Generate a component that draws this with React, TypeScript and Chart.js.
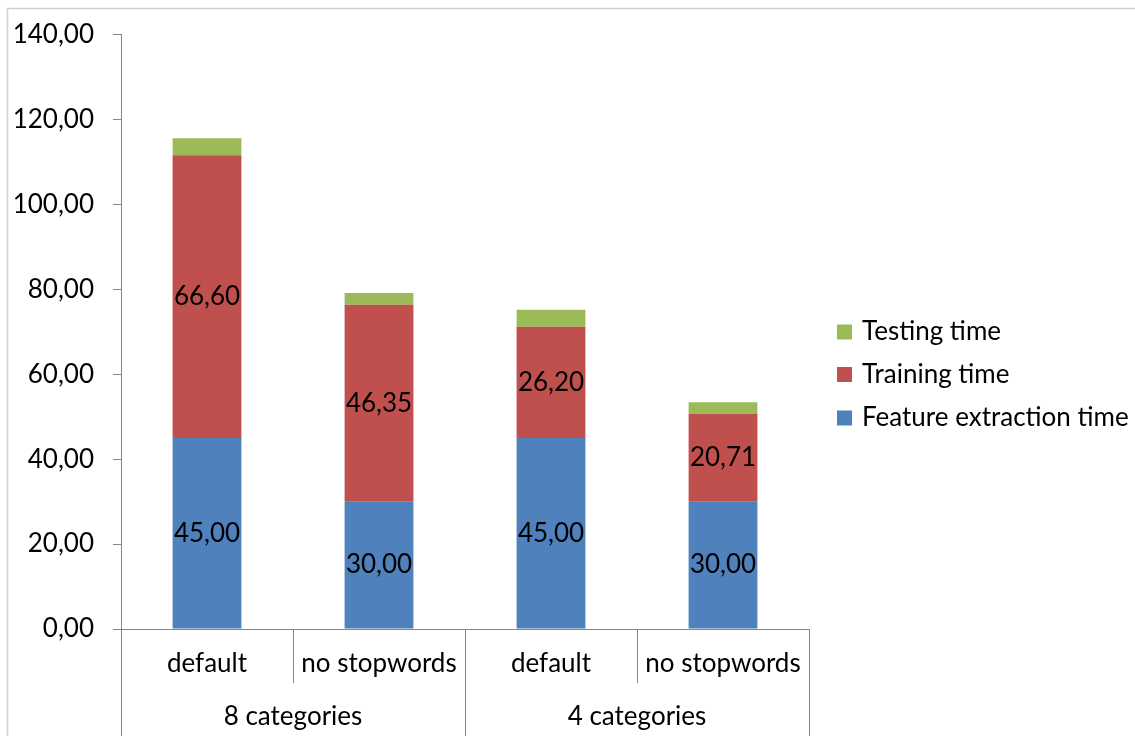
import React, { useEffect, useRef } from "react";
import { Chart, registerables } from "chart.js";

Chart.register(...registerables);

const subCategories = ["default", "no stopwords", "default", "no stopwords"];
const groupCategories = ["8 categories", "4 categories"];
const groupSizes = [2, 2];
const seriesNames = ["Feature extraction time", "Training time", "Testing time"];
const featureExtraction = [45.0, 30.0, 45.0, 30.0];
const training = [66.6, 46.35, 26.2, 20.71];
const testing = [4.0, 2.8, 4.0, 2.7];
const seriesColors = ["#4F81BD", "#C0504D", "#9BBB59"];
const yMin = 0;
const yMax = 140;
const yStep = 20;

const FONT = "Lato, 'Open Sans', sans-serif";
const FONT_SIZE = 26;
const AXIS_COLOR = "#868686";

const fmt = (v: number) => v.toFixed(2).replace(".", ",");

const framePlugin = {
  id: "frame",
  beforeDraw(chart: any) {
    const ctx = chart.ctx;
    ctx.save();
    ctx.strokeStyle = "#d0d0d0";
    ctx.lineWidth = 1.5;
    ctx.beginPath();
    ctx.moveTo(7.5, chart.height);
    ctx.lineTo(7.5, 8.5);
    ctx.lineTo(chart.width, 8.5);
    ctx.stroke();
    ctx.restore();
  },
};

const labelsPlugin = {
  id: "segLabels",
  afterDatasetsDraw(chart: any) {
    const ctx = chart.ctx;
    ctx.save();
    ctx.font = `${FONT_SIZE}px ${FONT}`;
    ctx.fillStyle = "#000";
    ctx.textAlign = "center";
    ctx.textBaseline = "middle";
    [0, 1].forEach((di) => {
      const meta = chart.getDatasetMeta(di);
      const data = chart.data.datasets[di].data as number[];
      meta.data.forEach((bar: any, i: number) => {
        const cy = (bar.y + bar.base) / 2;
        ctx.fillText(fmt(data[i]), bar.x, cy);
      });
    });
    ctx.restore();
  },
};

const groupAxisPlugin = {
  id: "groupAxis",
  afterDraw(chart: any) {
    const ctx = chart.ctx;
    const x = chart.scales.x;
    const area = chart.chartArea;
    const n = subCategories.length;
    const step = (area.right - area.left) / n;
    const bound = (i: number) => area.left + step * i;
    const yAxis = area.bottom;
    const midLine = yAxis + 54;
    const bottom = chart.height;
    ctx.save();
    ctx.strokeStyle = AXIS_COLOR;
    ctx.lineWidth = 1;
    ctx.beginPath();
    ctx.moveTo(area.left, Math.round(yAxis) + 0.5);
    ctx.lineTo(area.right, Math.round(yAxis) + 0.5);
    ctx.stroke();
    const groupBounds = new Set<number>();
    let acc = 0;
    groupBounds.add(0);
    groupSizes.forEach((s) => {
      acc += s;
      groupBounds.add(acc);
    });
    for (let i = 0; i <= n; i++) {
      const bx = Math.round(bound(i)) + 0.5;
      ctx.beginPath();
      ctx.moveTo(bx, yAxis);
      ctx.lineTo(bx, groupBounds.has(i) ? bottom : midLine);
      ctx.stroke();
    }
    ctx.font = `${FONT_SIZE}px ${FONT}`;
    ctx.fillStyle = "#000";
    ctx.textAlign = "center";
    ctx.textBaseline = "middle";
    subCategories.forEach((c, i) => {
      ctx.fillText(c, x.getPixelForValue(i), yAxis + 35);
    });
    let start = 0;
    groupCategories.forEach((g, gi) => {
      const end = start + groupSizes[gi];
      const cx = (bound(start) + bound(end)) / 2;
      ctx.fillText(g, cx, yAxis + 88);
      start = end;
    });
    ctx.restore();
  },
};

const legendPlugin = {
  id: "customLegend",
  afterDraw(chart: any) {
    const ctx = chart.ctx;
    const items = [2, 1, 0];
    const ys = [332, 374.5, 418];
    ctx.save();
    ctx.font = `${FONT_SIZE}px ${FONT}`;
    ctx.textAlign = "left";
    ctx.textBaseline = "middle";
    items.forEach((di, k) => {
      ctx.fillStyle = seriesColors[di];
      ctx.fillRect(837, ys[k] - 7.5, 15, 15);
      ctx.fillStyle = "#000";
      ctx.fillText(seriesNames[di], 862, ys[k]);
    });
    ctx.restore();
  },
};

export default function App() {
  const canvasRef = useRef<HTMLCanvasElement | null>(null);

  useEffect(() => {
    if (!canvasRef.current) return;
    const yTickCount = (yMax - yMin) / yStep;
    const chart = new Chart(canvasRef.current, {
      type: "bar",
      data: {
        labels: subCategories,
        datasets: [
          { label: seriesNames[0], data: featureExtraction, backgroundColor: seriesColors[0] },
          { label: seriesNames[1], data: training, backgroundColor: seriesColors[1] },
          { label: seriesNames[2], data: testing, backgroundColor: seriesColors[2] },
        ],
      },
      options: {
        responsive: false,
        animation: false,
        maintainAspectRatio: false,
        layout: { padding: { left: 0, top: 33, right: 326, bottom: 0 } },
        datasets: { bar: { barPercentage: 0.4, categoryPercentage: 1.0 } },
        plugins: {
          legend: { display: false },
          tooltip: { enabled: false },
          title: { display: false },
        },
        scales: {
          x: {
            stacked: true,
            offset: true,
            grid: { display: false },
            border: { display: false },
            ticks: { display: false },
            afterFit: (s: any) => {
              s.height = 107;
            },
          },
          y: {
            stacked: true,
            min: yMin,
            max: yMax,
            grid: {
              display: true,
              drawOnChartArea: false,
              drawTicks: true,
              tickLength: 8,
              color: AXIS_COLOR,
            },
            border: { display: true, color: AXIS_COLOR },
            ticks: {
              stepSize: yStep,
              count: yTickCount + 1,
              padding: 19,
              color: "#000",
              font: { family: FONT, size: FONT_SIZE },
              callback: (v: any) => fmt(Number(v)),
            },
            afterFit: (s: any) => {
              s.width = 121;
            },
          },
        },
      },
      plugins: [framePlugin, labelsPlugin, groupAxisPlugin, legendPlugin],
    });
    return () => chart.destroy();
  }, []);

  return (
    <div style={{ position: "fixed", left: 0, top: 0, width: 1135, height: 736, background: "#fff" }}>
      <canvas ref={canvasRef} width={1135} height={736} style={{ width: 1135, height: 736 }} />
    </div>
  );
}
